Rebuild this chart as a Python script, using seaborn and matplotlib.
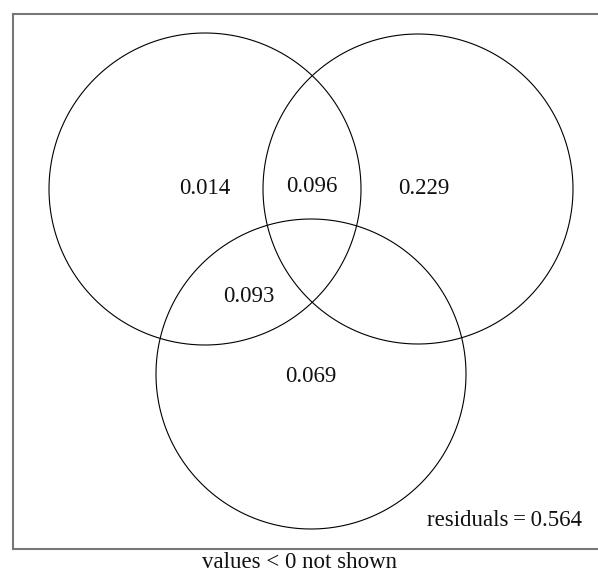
import matplotlib
matplotlib.use("Agg")
import matplotlib.pyplot as plt
import numpy as np
import pandas as pd
import seaborn as sns

# circles (pixel units of the original figure)
set_names = ["A", "B", "C"]
centre_x = [205, 418, 311]
centre_y = [189, 189, 374]
radius = [156, 155, 155]

# region values and label positions
region_values = ["0.014", "0.096", "0.229", "0.093", "0.069"]
label_x = [205, 312, 424, 249, 311]
label_y = [188, 187, 188, 296, 377]
residuals = 0.564

sns.set_theme(style="white")
plt.rcParams["font.family"] = ["Liberation Serif", "DejaVu Serif"]

# outline points for each circle
theta = np.linspace(np.pi / 2, np.pi / 2 + 2 * np.pi, 400)
rows = []
for name, cx, cy, r in zip(set_names, centre_x, centre_y, radius):
    for t in theta:
        rows.append({"set": name, "x": cx + r * np.cos(t), "y": cy + r * np.sin(t)})
df = pd.DataFrame(rows)

fig = plt.figure(figsize=(5.98, 5.74), dpi=100)
ax = fig.add_axes([13 / 598, (574 - 549) / 574, 1.02, (549 - 14) / 574])

sns.lineplot(data=df, x="x", y="y", hue="set", units="set", estimator=None, sort=False,
             palette=["black"] * 3, linewidth=0.8, legend=False, ax=ax,
             solid_capstyle="butt", solid_joinstyle="round")

for v, x, y in zip(region_values, label_x, label_y):
    ax.text(x, y, v, ha="center", va="center", fontsize=16.5, color="#111111")

ax.text(582, 521, f"residuals\u2009=\u2009{residuals:.3f}", ha="right", va="center",
        fontsize=16.5, color="#111111")

ax.set_xlim(13, 13 + 1.02 * 598)
ax.set_ylim(549, 14)
ax.set_xticks([])
ax.set_yticks([])
ax.set_xlabel("")
ax.set_ylabel("")
for side in ["left", "top", "bottom"]:
    ax.spines[side].set_color("#777777")
    ax.spines[side].set_linewidth(1.5)
ax.spines["right"].set_visible(False)

fig.text(300 / 598, 1 - 562 / 574, "values < 0 not shown", ha="center", va="center",
         fontsize=16.5, color="#111111")

fig.savefig("out.png", dpi=100)
